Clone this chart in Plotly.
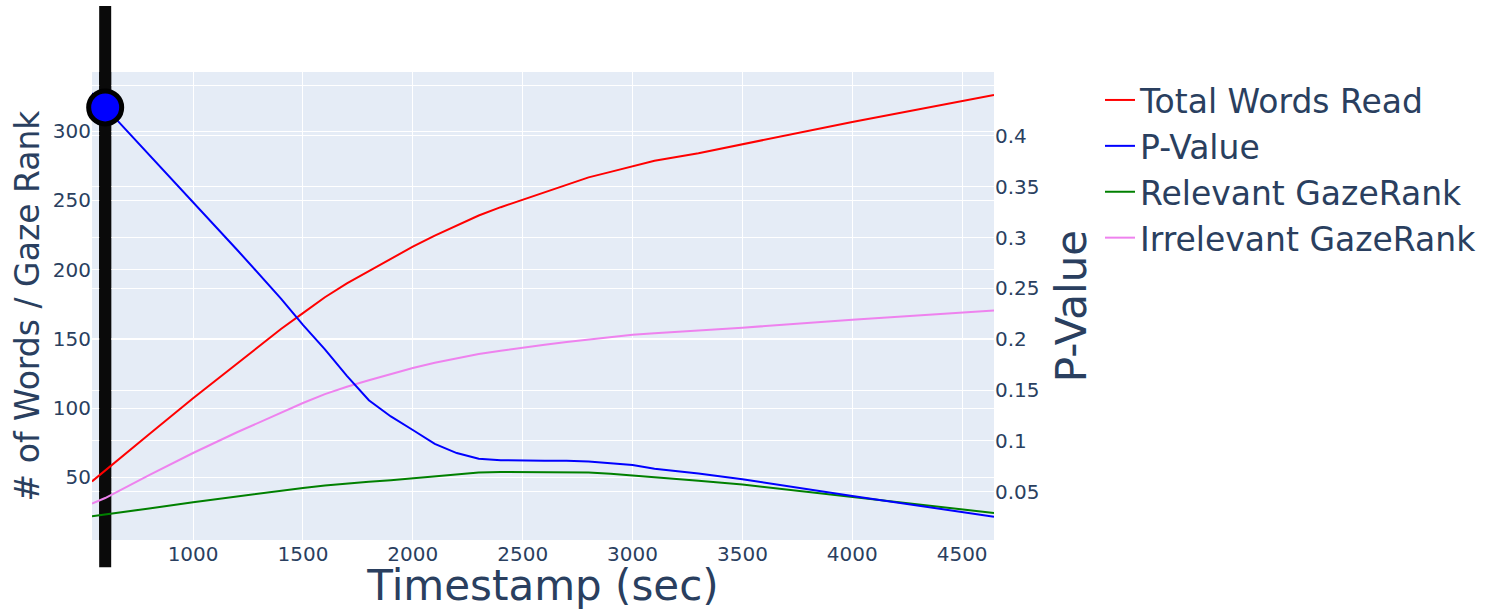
import numpy as np
import plotly.graph_objects as go

# Reading session timeline (seconds)
timestamps = [540, 600, 800, 1000, 1200, 1400, 1500, 1600, 1700, 1800, 1900,
              2000, 2100, 2200, 2300, 2400, 2500, 2600, 2700, 2800, 2900,
              3000, 3100, 3300, 3500, 4000, 4645]

total_words_read = [47, 55, 81, 107, 132, 157, 168.5, 180, 190, 199, 208,
                    216.5, 224.5, 232, 239, 245, 250.5, 256, 261.5, 266.5, 270.5,
                    274.5, 278.5, 284, 290.5, 306.5, 326]

p_value = [0.442, 0.428, 0.382, 0.335, 0.288, 0.240, 0.214, 0.190, 0.164, 0.140, 0.124,
           0.1107, 0.097, 0.088, 0.0825, 0.081, 0.0805, 0.0805, 0.0805, 0.0797, 0.078,
           0.0763, 0.0725, 0.068, 0.0622, 0.0458, 0.0254]

relevant_gazerank = [21.8, 23, 27.5, 31.9, 36.2, 40.3, 42.3, 44, 45.5, 46.8, 47.9,
                     49.3, 50.6, 52, 53.5, 53.8, 53.8, 53.8, 53.8, 53.5, 52.5,
                     51.3, 50, 47.5, 44.7, 35.8, 24.2]

irrelevant_gazerank = [31.0, 35, 51.5, 67.5, 82.5, 96.5, 103.6, 110, 115.3, 120, 124.7,
                       128.9, 132.7, 136, 139, 141.3, 143.7, 145.7, 147.6, 149.5, 151.3,
                       152.9, 154, 155.8, 158, 163.7, 170.4]

# Slider position on the timeline
current_time = 600
current_p = float(np.interp(current_time, timestamps, p_value))

x_range = [540, 4645]
y_range = [4.7, 342.6]
y2_range = [0.0025, 0.4628]

p_ticks = [0.05, 0.1, 0.15, 0.2, 0.25, 0.3, 0.35, 0.4, 0.45]
p_ticktext = ["0.05", "0.1", "0.15", "0.2", "0.25", "0.3", "0.35", "0.4", ""]

FONT = "DejaVu Sans"

fig = go.Figure()
fig.add_trace(go.Scatter(x=timestamps, y=total_words_read, mode="lines",
                         name="Total Words Read", line=dict(color="red", width=2)))
fig.add_trace(go.Scatter(x=timestamps, y=p_value, mode="lines", name="P-Value",
                         yaxis="y2", line=dict(color="blue", width=2)))
fig.add_trace(go.Scatter(x=timestamps, y=relevant_gazerank, mode="lines",
                         name="Relevant GazeRank", line=dict(color="green", width=2)))
fig.add_trace(go.Scatter(x=timestamps, y=irrelevant_gazerank, mode="lines",
                         name="Irrelevant GazeRank", line=dict(color="violet", width=2)))
fig.add_trace(go.Scatter(x=[current_time], y=[current_p], mode="markers", yaxis="y2",
                         showlegend=False, cliponaxis=False,
                         marker=dict(size=33, color="blue",
                                     line=dict(color="black", width=5))))

# Vertical time cursor: full-height part reaching past the plot area ...
fig.add_shape(type="line", xref="x", yref="paper",
              x0=current_time, x1=current_time, y0=-0.058, y1=1.141,
              line=dict(color="#0a0a0a", width=12), layer="below")
# ... and the in-plot part kept above the gridlines
fig.add_shape(type="line", xref="x", yref="y",
              x0=current_time, x1=current_time, y0=y_range[0], y1=y_range[1],
              line=dict(color="#0a0a0a", width=12), layer="between")

fig.update_layout(
    width=1488, height=610,
    template="plotly",
    font=dict(family=FONT),
    margin=dict(l=92, r=494, t=72, b=70, autoexpand=False),
    xaxis=dict(range=x_range, dtick=500, tick0=0, automargin=False,
               tickfont=dict(size=20),
               title=dict(text="Timestamp (sec)", font=dict(size=42))),
    yaxis=dict(range=y_range, dtick=50, tick0=0, automargin=False,
               tickfont=dict(size=20),
               title=dict(text="# of Words / Gaze Rank", font=dict(size=33),
                          standoff=3)),
    yaxis2=dict(range=y2_range, overlaying="y", side="right",
                tickmode="array", tickvals=p_ticks, ticktext=p_ticktext,
                automargin=False, tickfont=dict(size=20),
                title=dict(text="P-Value", font=dict(size=42), standoff=18)),
    legend=dict(x=1.1175, xanchor="left", y=1, yanchor="top",
                font=dict(size=33)),
)

fig.write_html("out.html")
